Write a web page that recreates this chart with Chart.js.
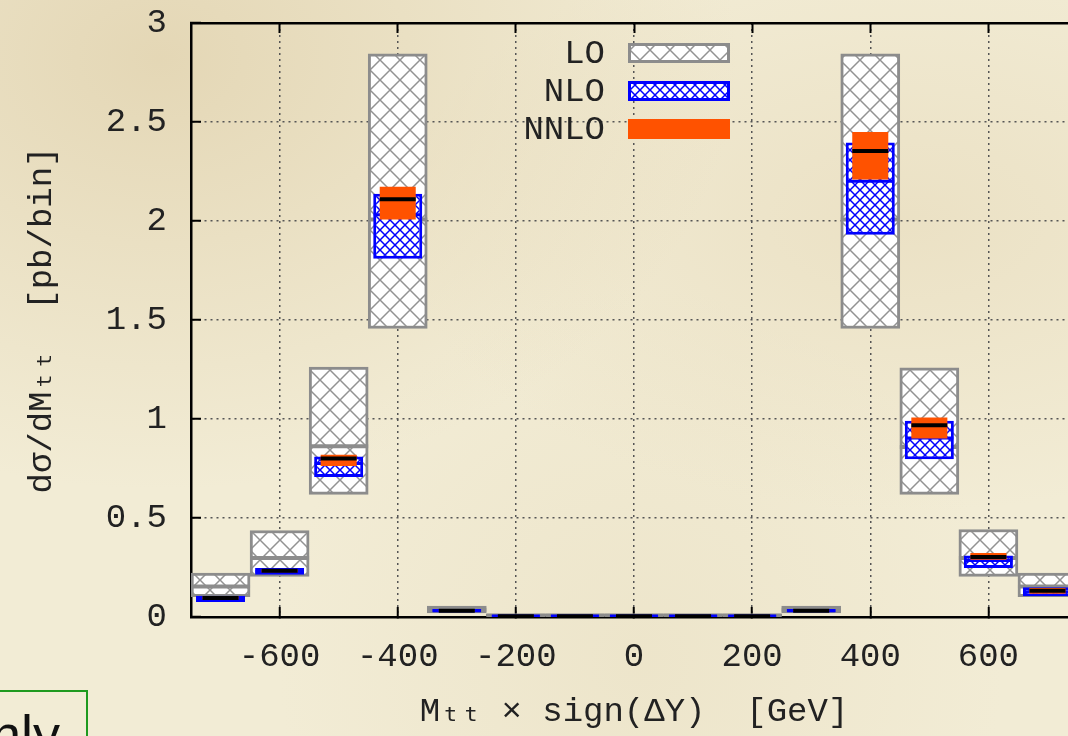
<!DOCTYPE html>
<html>
<head>
<meta charset="utf-8">
<script src="https://cdn.jsdelivr.net/npm/chart.js@4.4.1/dist/chart.umd.min.js"></script>
<style>
  html, body { margin: 0; padding: 0; width: 1068px; height: 736px; overflow: hidden; }
  body {
    position: relative;
    background:
      radial-gradient(ellipse at 15% 8%, rgba(222,206,168,0.7) 0%, rgba(222,206,168,0) 45%),
      radial-gradient(ellipse at 85% 30%, rgba(228,214,180,0.5) 0%, rgba(228,214,180,0) 40%),
      radial-gradient(ellipse at 60% 90%, rgba(232,222,192,0.5) 0%, rgba(232,222,192,0) 40%),
      #f2ecd5;
  }
  #chart { position: absolute; left: 0; top: 0; }
  #note {
    position: absolute; left: -200px; top: 690px; width: 288px; height: 80px;
    border: 2px solid #1f9a1f; box-sizing: border-box;
    font-family: "Liberation Sans", Arial, sans-serif; font-size: 54px; color: #111;
    text-align: right; padding-right: 26px; line-height: 84px;
  }
</style>
</head>
<body>
<canvas id="chart" width="1100" height="736"></canvas>
<div id="note">only</div>
<script>
// bin centres in GeV (bins are 100 GeV wide, -750 .. 750)
const binCenters = [-700, -600, -500, -400, -300, -200, -100, 0, 100, 200, 300, 400, 500, 600, 700];
const xTickValues = [-600, -400, -200, 0, 200, 400, 600];

// LO band and central value
const loLow     = [0.103, 0.205, 0.619, 1.457, 0.020, 0, 0, 0, 0, 0, 0.020, 1.457, 0.619, 0.205, 0.103];
const loHigh    = [0.222, 0.437, 1.262, 2.844, 0.055, 0.015, 0.015, 0.015, 0.015, 0.015, 0.055, 2.844, 1.259, 0.442, 0.222];
const loCentral = [0.154, 0.298, 0.863, 2.007, 0.037, 0.007, 0.007, 0.007, 0.007, 0.007, 0.037, 2.007, 0.859, 0.298, 0.154];

// NLO band and central value
const nloLow     = [0.076, 0.213, 0.707, 1.809, 0.024, 0.002, 0.002, 0.002, 0.002, 0.002, 0.024, 1.931, 0.797, 0.247, 0.105];
const nloHigh    = [0.107, 0.247, 0.810, 2.137, 0.041, 0.008, 0.008, 0.008, 0.008, 0.008, 0.041, 2.396, 0.991, 0.311, 0.150];
const nloCentral = [0.092, 0.230, 0.775, 2.032, 0.032, 0.005, 0.005, 0.005, 0.005, 0.005, 0.032, 2.201, 0.904, 0.285, 0.128];

// NNLO band and central value
const nnloLow     = [0.090, 0.226, 0.763, 2.007, 0.029, 0.003, 0.003, 0.003, 0.003, 0.003, 0.029, 2.210, 0.902, 0.289, 0.118];
const nnloHigh    = [0.103, 0.241, 0.820, 2.173, 0.035, 0.006, 0.006, 0.006, 0.006, 0.006, 0.035, 2.450, 1.008, 0.323, 0.146];
const nnloCentral = [0.096, 0.233, 0.800, 2.110, 0.032, 0.004, 0.004, 0.004, 0.004, 0.004, 0.032, 2.354, 0.968, 0.303, 0.132];

const FONT = "'Liberation Mono', 'DejaVu Sans Mono', monospace";
const GRAY = "#8c8c8c";
const BLUE = "#0000ff";
const ORANGE = "#ff5200";

function makeHatch(size, color, width) {
  const c = document.createElement("canvas");
  c.width = size;
  c.height = size;
  const g = c.getContext("2d");
  g.fillStyle = "#ffffff";
  g.fillRect(0, 0, size, size);
  g.strokeStyle = color;
  g.lineWidth = width;
  g.beginPath();
  g.moveTo(-1, -1); g.lineTo(size + 1, size + 1);
  g.moveTo(-1, size + 1); g.lineTo(size + 1, -1);
  g.stroke();
  return g.createPattern(c, "repeat");
}

const loHatch = makeHatch(20, "#939393", 1.5);
const nloHatch = makeHatch(10, BLUE, 1.5);

function band(lo, hi) {
  return lo.map((v, i) => [v, hi[i]]);
}

const shownTick = (i) => xTickValues.includes(binCenters[i]);

// legend drawn inside the plot, text left of the sample box
const insideLegend = {
  id: "insideLegend",
  afterDraw(chart) {
    const ctx = chart.ctx;
    const area = chart.chartArea;
    const boxLeft = (area.left + area.right) / 2 - 6;
    const items = chart.data.datasets.filter((d) => d.type === "bar");
    ctx.save();
    ctx.font = "34px " + FONT;
    ctx.textAlign = "right";
    ctx.textBaseline = "middle";
    items.forEach((d, k) => {
      const cy = area.top + 30 + k * 38;
      ctx.fillStyle = "#222";
      ctx.fillText(d.label, boxLeft - 23, cy + 1);
      ctx.fillStyle = d.backgroundColor;
      ctx.fillRect(boxLeft, cy - 10, 102, 20);
      if (d.borderWidth) {
        ctx.strokeStyle = d.borderColor;
        ctx.lineWidth = d.borderWidth;
        ctx.strokeRect(boxLeft + 1.5, cy - 8.5, 99, 17);
      }
    });
    ctx.restore();
  },
};

new Chart(document.getElementById("chart"), {
  data: {
    labels: binCenters.map(String),
    datasets: [
      {
        type: "bar", label: "LO", data: band(loLow, loHigh),
        backgroundColor: loHatch, borderColor: GRAY, borderWidth: 3, borderSkipped: false,
        barPercentage: 1, categoryPercentage: 1, grouped: false, order: 6,
      },
      {
        type: "line", label: "LO central", data: loCentral, showLine: false,
        pointStyle: "line", pointRadius: 29.5, pointBorderWidth: 4, pointBorderColor: GRAY, order: 5,
      },
      {
        type: "bar", label: "NLO", data: band(nloLow, nloHigh),
        backgroundColor: nloHatch, borderColor: BLUE, borderWidth: 3, borderSkipped: false,
        barPercentage: 0.83, categoryPercentage: 1, grouped: false, order: 4,
      },
      {
        type: "line", label: "NLO central", data: nloCentral, showLine: false,
        pointStyle: "line", pointRadius: 24, pointBorderWidth: 3, pointBorderColor: BLUE, order: 3,
      },
      {
        type: "bar", label: "NNLO", data: band(nnloLow, nnloHigh),
        backgroundColor: ORANGE, borderWidth: 0,
        barPercentage: 0.61, categoryPercentage: 1, grouped: false, order: 2,
      },
      {
        type: "line", label: "NNLO central", data: nnloCentral, showLine: false,
        pointStyle: "line", pointRadius: 18, pointBorderWidth: 4, pointBorderColor: "#000", order: 1,
      },
    ],
  },
  options: {
    responsive: false,
    animation: false,
    events: [],
    layout: { autoPadding: false, padding: { left: 0, top: 23, right: 23, bottom: 0 } },
    plugins: { legend: { display: false }, tooltip: { enabled: false } },
    scales: {
      x: {
        type: "category",
        offset: true,
        afterFit: (s) => {
          s.height = 119;
          s.paddingLeft = 0;
          s.paddingRight = 0;
        },
        grid: {
          offset: false,
          color: (c) => (shownTick(c.index) ? "#555" : "rgba(0,0,0,0)"),
          lineWidth: 1.5,
          drawTicks: true,
          tickLength: -10,
          tickWidth: 2,
          tickColor: (c) => (shownTick(c.index) ? "#000" : "rgba(0,0,0,0)"),
        },
        border: { display: true, color: "#000", width: 2.5, dash: [2, 4] },
        ticks: {
          autoSkip: false,
          maxRotation: 0,
          padding: 30,
          color: "#222",
          font: { family: FONT, size: 34 },
          callback: (v, i) => (shownTick(i) ? String(binCenters[i]) : ""),
        },
        title: {
          display: true,
          text: "Mₜₜ × sign(ΔY)  [GeV]",
          color: "#222",
          font: { family: FONT, size: 34 },
          padding: { top: 4, bottom: 4 },
        },
      },
      xTop: {
        type: "category",
        position: "top",
        offset: true,
        afterFit: (s) => {
          s.height = 0;
          s.paddingLeft = 0;
          s.paddingRight = 0;
        },
        grid: {
          offset: false,
          drawOnChartArea: false,
          drawTicks: true,
          tickLength: -10,
          tickWidth: 2,
          tickColor: (c) => (shownTick(c.index) ? "#000" : "rgba(0,0,0,0)"),
        },
        border: { display: true, color: "#000", width: 2.5 },
        ticks: { display: false },
      },
      y: {
        type: "linear",
        min: 0,
        max: 3,
        afterFit: (s) => {
          s.width = 191;
          s.paddingTop = 0;
          s.paddingBottom = 0;
        },
        grid: {
          color: (c) => (c.tick.value > 0 && c.tick.value < 3 ? "#555" : "rgba(0,0,0,0)"),
          lineWidth: 1.5,
          drawTicks: true,
          tickLength: -10,
          tickWidth: 2,
          tickColor: "#000",
        },
        border: { display: true, color: "#000", width: 2.5, dash: [2, 4] },
        ticks: {
          stepSize: 0.5,
          padding: 34,
          color: "#222",
          font: { family: FONT, size: 34 },
          callback: (v) => String(v),
        },
        title: {
          display: true,
          text: "dσ/dMₜₜ  [pb/bin]",
          color: "#222",
          font: { family: FONT, size: 34 },
          padding: { top: 22, bottom: 0 },
        },
      },
    },
  },
  plugins: [insideLegend],
});
</script>
</body>
</html>
